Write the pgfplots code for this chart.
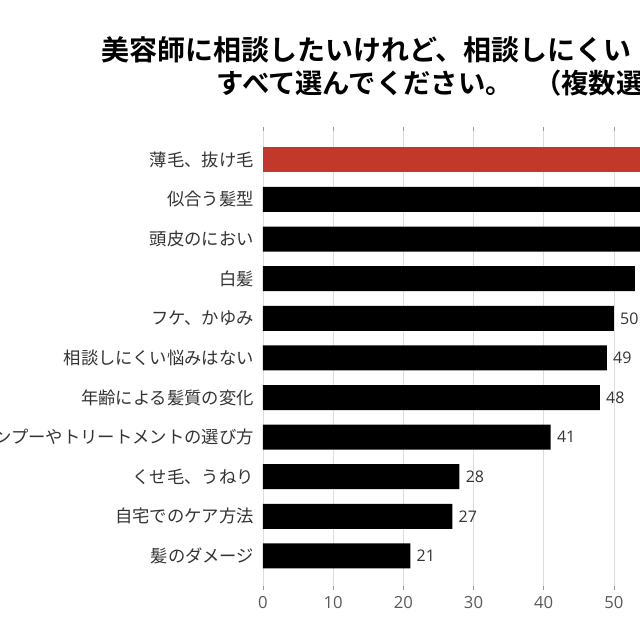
\documentclass[border=0pt]{standalone}
\usepackage{fontspec}
\setmainfont{Noto Sans CJK JP}[BoldFont={Noto Sans CJK JP Bold}]
\newfontfamily\numfont{Open Sans}
\usepackage{pgfplots}
\pgfplotsset{compat=1.18}
\definecolor{barred}{RGB}{192,57,43}
\definecolor{labgray}{RGB}{51,51,51}
\definecolor{tickgray}{RGB}{90,90,90}
\definecolor{gridgray}{RGB}{221,221,221}

\begin{document}
\begin{tikzpicture}
\path[use as bounding box] (0,0) rectangle (480pt,480pt);
\clip (0,0) rectangle (480pt,480pt);

% title (cut at the right edge, as in the source image)
\node[anchor=west, inner sep=0pt, font=\bfseries\fontsize{21}{25}\selectfont]
  at (75.8pt,442.5pt) {美容師に相談したいけれど、相談しにくい};
\node[anchor=west, inner sep=0pt, font=\bfseries\fontsize{20.5}{25}\selectfont]
  at (162.3pt,417.8pt) {すべて選んでください。};
\node[anchor=west, inner sep=0pt, font=\bfseries\fontsize{20.5}{25}\selectfont]
  at (400.5pt,417.8pt) {（複数選};

\begin{axis}[
    at={(197.2pt,37.5pt)}, anchor=south west,
    scale only axis,
    width=315.9pt, height=347.25pt,
    xbar, bar width=18.75pt, bar shift=0pt,
    xmin=0, xmax=60,
    ymin=-0.86, ymax=10.83,
    axis line style={draw=none},
    xtick={0,10,20,30,40,50,60},
    xmajorgrids=true,
    grid style={gridgray, line width=0.6pt},
    xtick style={draw=gridgray!70!black, line width=0.6pt},
    major tick length=3pt,
    ytick={0,...,10},
    yticklabels={髪のダメージ,自宅でのケア方法,くせ毛、うねり,シャンプーやトリートメントの選び方,年齢による髪質の変化,相談しにくい悩みはない,フケ、かゆみ,白髪,頭皮のにおい,似合う髪型,{薄毛、抜け毛}},
    ytick style={draw=none},
    yticklabel style={font=\fontsize{13}{15}\selectfont, text=labgray, inner sep=0pt, xshift=-3.5pt},
    xticklabel style={font=\numfont\fontsize{12.5}{14}\selectfont, text=tickgray, inner sep=0pt, yshift=-4.5pt},
    /pgf/number format/assume math mode=true,
    nodes near coords,
    every node near coord/.append style={font=\numfont\fontsize{12}{14}\selectfont, text=labgray, inner sep=0pt, xshift=4.5pt},
    clip=false,
]
\addplot[fill=black, draw=none, bar shift=0pt] coordinates {
    (21,0) (27,1) (28,2) (41,3) (48,4) (49,5) (50,6) (53,7) (55,8) (58,9)
};
\addplot[fill=barred, draw=none, bar shift=0pt] coordinates {(68,10)};
\end{axis}
\end{tikzpicture}
\end{document}
